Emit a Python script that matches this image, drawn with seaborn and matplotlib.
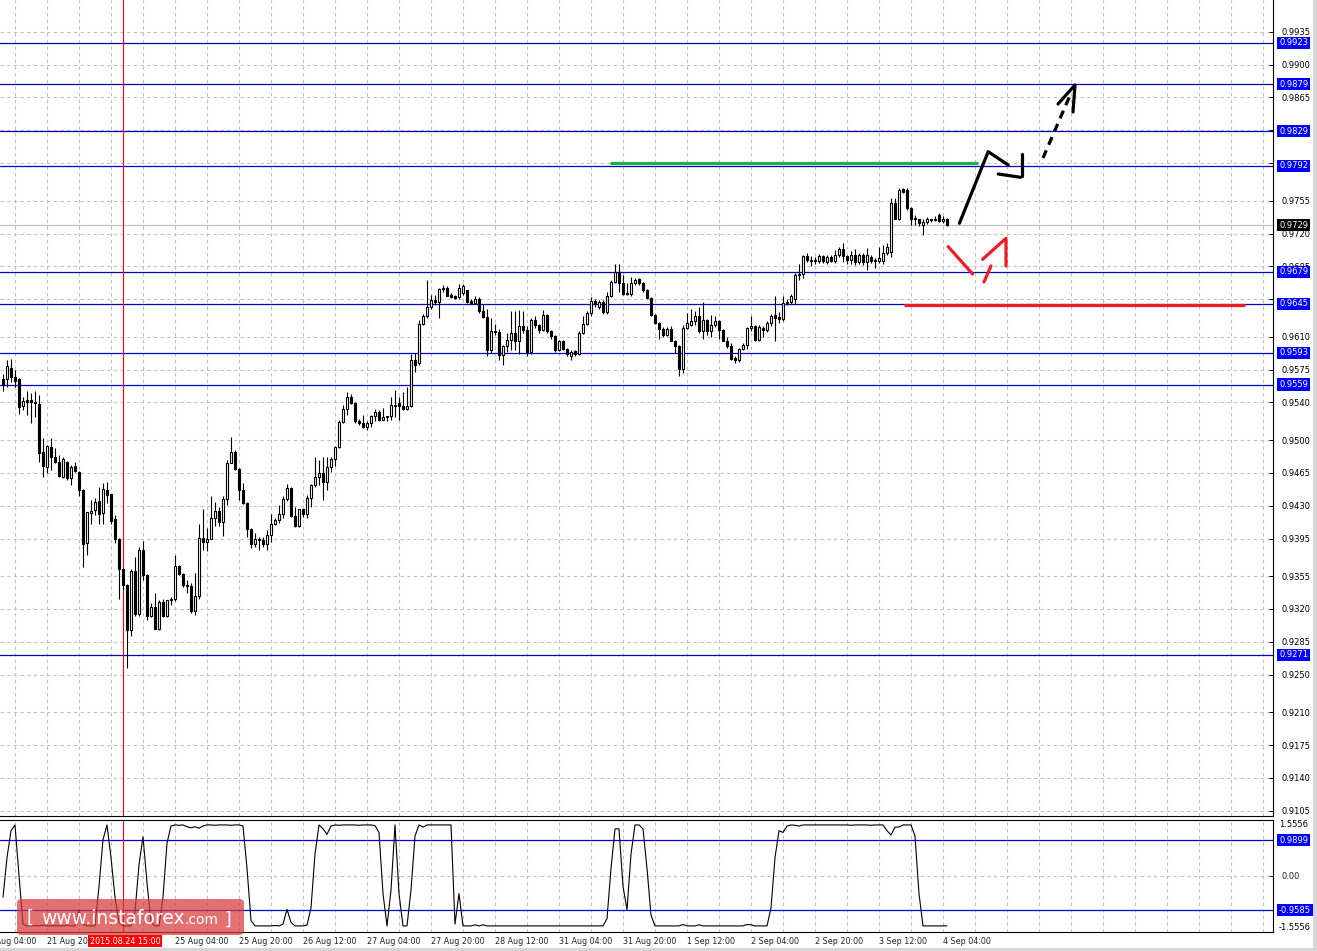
import numpy as np
import pandas as pd
import matplotlib
matplotlib.use("Agg")
import matplotlib.pyplot as plt
import matplotlib.transforms as mtransforms
from matplotlib.patches import Rectangle, FancyBboxPatch
from matplotlib.text import Annotation
import seaborn as sns

# ---------------- data (H1 bars, index 0 = 21 Aug 09:00) ----------------
opens = [
    .9565, .9565, .9577, .9567, .9565, .9536, .9543, .9543, .9541, .9538,
    .9487, .9471, .9493, .9482, .9477, .9461, .9477, .9460, .9472, .9466,
    .9447, .9390, .9422, .9425, .9435, .9422, .9447, .9443, .9416, .9395,
    .9363, .9346, .9298, .9360, .9315, .9383, .9356, .9312, .9322, .9299,
    .9327, .9312, .9330, .9331, .9366, .9357, .9346, .9344, .9318, .9334,
    .9396, .9391, .9395, .9417, .9424, .9413, .9437, .9476, .9487, .9469,
    .9447, .9433, .9405, .9389, .9395, .9393, .9389, .9399, .9410, .9415,
    .9421, .9437, .9449, .9419, .9408, .9426, .9421, .9438, .9452, .9461,
    .9465, .9455, .9471, .9480, .9493, .9519, .9533, .9546, .9539, .9520,
    .9518, .9514, .9518, .9526, .9530, .9521, .9524, .9526, .9537, .9539,
    .9536, .9533, .9536, .9585, .9582, .9624, .9632, .9642, .9649, .9647,
    .9661, .9662, .9654, .9653, .9652, .9657, .9660, .9648, .9646, .9650,
    .9637, .9631, .9596, .9616, .9615, .9591, .9600, .9607, .9614, .9606,
    .9621, .9617, .9594, .9628, .9622, .9617, .9633, .9616, .9611, .9596,
    .9605, .9597, .9590, .9595, .9592, .9614, .9624, .9635, .9648, .9642,
    .9647, .9636, .9653, .9668, .9679, .9667, .9657, .9656, .9667, .9672,
    .9667, .9660, .9651, .9633, .9625, .9618, .9612, .9618, .9606, .9600,
    .9576, .9619, .9622, .9627, .9632, .9616, .9628, .9616, .9622, .9627,
    .9617, .9606, .9600, .9587, .9585, .9597, .9601, .9619, .9621, .9607,
    .9619, .9617, .9625, .9633, .9631, .9629, .9646, .9647, .9650, .9676,
    .9677, .9696, .9692, .9691, .9691, .9696, .9690, .9695, .9691, .9697,
    .9704, .9696, .9692, .9697, .9690, .9697, .9690, .9695, .9692, .9691,
    .9691, .9699, .9700, .9752, .9736, .9767, .9766, .9747, .9737, .9735,
    .9729, .9732, .9736, .9734, .9740, .9733, .9736]
highs = [
    .9570, .9585, .9586, .9575, .9566, .9546, .9552, .9550, .9552, .9548,
    .9502, .9495, .9502, .9491, .9484, .9482, .9478, .9473, .9477, .9467,
    .9448, .9423, .9436, .9438, .9450, .9454, .9455, .9443, .9420, .9396,
    .9364, .9347, .9363, .9375, .9386, .9392, .9357, .9326, .9337, .9330,
    .9331, .9330, .9333, .9377, .9367, .9358, .9351, .9348, .9358, .9411,
    .9427, .9406, .9440, .9434, .9429, .9440, .9479, .9503, .9489, .9470,
    .9454, .9434, .9406, .9401, .9397, .9397, .9404, .9421, .9417, .9431,
    .9440, .9453, .9450, .9429, .9427, .9427, .9441, .9453, .9482, .9479,
    .9482, .9482, .9482, .9494, .9521, .9537, .9551, .9549, .9540, .9522,
    .9527, .9520, .9527, .9533, .9532, .9534, .9526, .9546, .9553, .9546,
    .9551, .9556, .9592, .9593, .9628, .9634, .9670, .9655, .9655, .9662,
    .9665, .9664, .9657, .9655, .9666, .9666, .9660, .9650, .9653, .9652,
    .9645, .9640, .9630, .9624, .9618, .9601, .9614, .9637, .9637, .9639,
    .9637, .9621, .9630, .9632, .9624, .9639, .9634, .9617, .9612, .9607,
    .9607, .9598, .9596, .9596, .9616, .9632, .9637, .9652, .9650, .9649,
    .9649, .9658, .9671, .9688, .9687, .9676, .9667, .9674, .9673, .9673,
    .9668, .9661, .9652, .9634, .9626, .9620, .9620, .9621, .9607, .9601,
    .9623, .9635, .9640, .9637, .9642, .9647, .9629, .9633, .9632, .9628,
    .9618, .9610, .9603, .9590, .9598, .9603, .9620, .9632, .9622, .9622,
    .9621, .9627, .9634, .9653, .9636, .9653, .9650, .9656, .9678, .9688,
    .9697, .9699, .9696, .9695, .9698, .9697, .9697, .9697, .9702, .9706,
    .9710, .9697, .9701, .9703, .9699, .9699, .9705, .9697, .9694, .9706,
    .9708, .9710, .9758, .9758, .9768, .9768, .9769, .9748, .9740, .9736,
    .9735, .9738, .9736, .9739, .9742, .9739, .9737]
lows = [
    .9552, .9556, .9562, .9557, .9528, .9532, .9527, .9518, .9525, .9477,
    .9461, .9465, .9468, .9475, .9461, .9459, .9457, .9452, .9466, .9440,
    .9365, .9378, .9411, .9420, .9410, .9411, .9433, .9411, .9390, .9331,
    .9340, .9257, .9291, .9312, .9312, .9351, .9308, .9311, .9299, .9298,
    .9311, .9311, .9324, .9329, .9356, .9343, .9337, .9316, .9314, .9331,
    .9383, .9382, .9394, .9408, .9408, .9398, .9431, .9475, .9468, .9436,
    .9432, .9397, .9385, .9386, .9383, .9386, .9383, .9391, .9409, .9412,
    .9417, .9435, .9418, .9407, .9407, .9418, .9417, .9429, .9450, .9452,
    .9436, .9447, .9466, .9472, .9492, .9518, .9527, .9538, .9518, .9516,
    .9513, .9511, .9514, .9520, .9520, .9521, .9520, .9521, .9525, .9521,
    .9532, .9532, .9535, .9572, .9580, .9622, .9630, .9640, .9644, .9630,
    .9658, .9653, .9651, .9650, .9650, .9655, .9646, .9645, .9645, .9635,
    .9630, .9589, .9593, .9612, .9585, .9580, .9594, .9596, .9596, .9592,
    .9614, .9589, .9592, .9619, .9614, .9616, .9614, .9608, .9594, .9595,
    .9596, .9590, .9585, .9590, .9591, .9613, .9623, .9632, .9642, .9640,
    .9634, .9634, .9652, .9667, .9658, .9655, .9654, .9653, .9665, .9665,
    .9658, .9650, .9632, .9624, .9608, .9610, .9611, .9605, .9593, .9568,
    .9571, .9618, .9621, .9623, .9614, .9608, .9612, .9610, .9620, .9608,
    .9605, .9598, .9585, .9582, .9583, .9596, .9597, .9616, .9605, .9606,
    .9610, .9615, .9621, .9605, .9625, .9627, .9644, .9645, .9645, .9670,
    .9673, .9690, .9685, .9687, .9689, .9689, .9688, .9690, .9689, .9695,
    .9690, .9688, .9688, .9686, .9688, .9686, .9681, .9689, .9683, .9689,
    .9688, .9697, .9695, .9735, .9734, .9763, .9745, .9729, .9729, .9728,
    .9718, .9730, .9732, .9733, .9732, .9731, .9728]
closes = [
    .9559, .9579, .9567, .9563, .9535, .9542, .9541, .9541, .9539, .9486,
    .9472, .9494, .9482, .9477, .9462, .9480, .9460, .9471, .9467, .9447,
    .9389, .9423, .9424, .9434, .9421, .9448, .9441, .9414, .9395, .9363,
    .9345, .9298, .9360, .9315, .9383, .9356, .9312, .9322, .9299, .9327,
    .9312, .9330, .9331, .9366, .9357, .9346, .9344, .9318, .9334, .9396,
    .9391, .9395, .9417, .9424, .9413, .9437, .9476, .9487, .9469, .9447,
    .9433, .9405, .9389, .9395, .9393, .9389, .9399, .9410, .9415, .9421,
    .9437, .9449, .9419, .9408, .9426, .9421, .9438, .9452, .9461, .9465,
    .9455, .9471, .9480, .9493, .9519, .9533, .9546, .9539, .9520, .9518,
    .9514, .9518, .9526, .9530, .9521, .9525, .9526, .9537, .9536, .9536,
    .9533, .9536, .9585, .9580, .9624, .9632, .9642, .9649, .9647, .9661,
    .9662, .9653, .9652, .9651, .9662, .9664, .9647, .9646, .9650, .9637,
    .9631, .9596, .9616, .9615, .9591, .9600, .9607, .9614, .9606, .9621,
    .9617, .9594, .9628, .9622, .9617, .9633, .9616, .9611, .9596, .9605,
    .9597, .9592, .9594, .9592, .9614, .9624, .9635, .9648, .9645, .9647,
    .9636, .9653, .9668, .9679, .9667, .9656, .9656, .9667, .9671, .9667,
    .9660, .9651, .9633, .9625, .9618, .9612, .9618, .9606, .9600, .9576,
    .9619, .9625, .9627, .9632, .9616, .9628, .9616, .9622, .9627, .9617,
    .9606, .9600, .9586, .9585, .9597, .9601, .9619, .9621, .9607, .9620,
    .9617, .9625, .9632, .9630, .9629, .9646, .9647, .9653, .9676, .9677,
    .9696, .9692, .9691, .9692, .9696, .9691, .9695, .9691, .9697, .9704,
    .9696, .9692, .9697, .9690, .9697, .9690, .9697, .9691, .9691, .9694,
    .9699, .9706, .9752, .9736, .9766, .9764, .9747, .9736, .9735, .9731,
    .9732, .9736, .9734, .9736, .9733, .9736, .9729]

# oscillator in the lower window
oscillator = [
    -0.60, 0.50, 1.25, 1.41, 0.00, -1.35, -1.40, -1.40, -1.39, -1.40,
    -1.38, -1.40, -1.40, -1.39, -1.40, -1.40, -1.38, -1.40, -1.40, -0.95,
    -1.35, -1.40, -1.40, -1.40, -0.30, 1.00, 1.41, 0.50, -0.60, -1.30,
    -1.40, -1.40, -1.40, -1.00, 0.30, 1.08, -0.20, -1.30, -1.40, -1.40,
    -0.60, 0.90, 1.38, 1.41, 1.40, 1.41, 1.36, 1.33, 1.36, 1.32,
    1.38, 1.41, 1.41, 1.40, 1.41, 1.41, 1.41, 1.40, 1.41, 1.41,
    1.38, 0.20, -1.25, -1.40, -1.40, -1.40, -1.40, -1.40, -1.39, -1.40,
    -1.35, -0.94, -1.30, -1.40, -1.40, -1.40, -1.38, -0.90, 0.60, 1.41,
    1.30, 1.15, 1.38, 1.41, 1.40, 1.41, 1.41, 1.41, 1.41, 1.40,
    1.41, 1.41, 1.41, 1.39, 1.20, -0.50, -1.40, -0.40, 1.41, -0.50,
    -1.40, -1.40, -0.40, 1.10, 1.41, 1.35, 1.41, 1.41, 1.41, 1.41,
    1.41, 1.41, 1.41, -1.35, -0.50, -1.40, -1.40, -1.40, -1.37, -1.40,
    -1.37, -1.40, -1.40, -1.40, -1.40, -1.40, -1.40, -1.40, -1.40, -1.40,
    -1.40, -1.40, -1.40, -1.40, -1.40, -1.40, -1.40, -1.40, -1.40, -1.40,
    -1.40, -1.40, -1.40, -1.40, -1.40, -1.40, -1.40, -1.40, -1.40, -1.40,
    -1.40, -1.20, 0.20, 1.30, 1.30, -0.30, -0.95, 0.60, 1.41, 1.41,
    1.30, 0.20, -1.10, -1.40, -1.40, -1.40, -1.40, -1.40, -1.40, -1.40,
    -1.36, -1.40, -1.40, -1.40, -1.37, -1.40, -1.40, -1.40, -1.40, -1.40,
    -1.40, -1.40, -1.40, -1.40, -1.40, -1.40, -1.36, -1.37, -1.40, -1.40,
    -1.40, -1.40, -0.90, 0.50, 1.25, 1.20, 1.38, 1.41, 1.40, 1.38,
    1.41, 1.41, 1.41, 1.41, 1.41, 1.41, 1.41, 1.41, 1.41, 1.41,
    1.41, 1.41, 1.40, 1.41, 1.41, 1.41, 1.41, 1.40, 1.41, 1.41,
    1.41, 1.25, 1.13, 1.35, 1.35, 1.41, 1.41, 1.41, 1.10, -0.50,
    -1.40, -1.40, -1.40, -1.40, -1.40, -1.40, -1.40]

# horizontal levels (main window) and their labels
levels = [0.9923, 0.9879, 0.9829, 0.9792, 0.9679, 0.9645, 0.9593, 0.9559, 0.9271]
current_price = 0.9729
price_ticks = [0.9935, 0.9900, 0.9865, 0.9830, 0.9795, 0.9755, 0.9720, 0.9685,
               0.9650, 0.9610, 0.9575, 0.9540, 0.9500, 0.9465, 0.9430, 0.9395,
               0.9355, 0.9320, 0.9285, 0.9250, 0.9210, 0.9175, 0.9140, 0.9105]
hidden_price_labels = [0.9830, 0.9795, 0.9650]   # covered by the level boxes
osc_levels = [0.9899, -0.9585]
osc_range = 1.5556

# time axis labels (bar index -> text); 24 Aug 12:00 sits under the cursor box
time_label_bars = [-5, 11, 43, 59, 75, 91, 107, 123, 139, 155, 171, 187, 203, 219, 235]
time_labels = ["21 Aug 04:00", "21 Aug 20:00", "25 Aug 04:00",
               "25 Aug 20:00", "26 Aug 12:00", "27 Aug 04:00", "27 Aug 20:00",
               "28 Aug 12:00", "31 Aug 04:00", "31 Aug 20:00", "1 Sep 12:00",
               "2 Sep 04:00", "2 Sep 20:00", "3 Sep 12:00", "4 Sep 04:00"]
time_tick_bars = [11, 27, 43, 59, 75, 91, 107, 123, 139, 155, 171, 187, 203, 219, 235]
cursor_bar = 30
cursor_label = "2015.08.24 15:00"

# analyst drawings (bar index, price)
green_level = dict(x=[151.75, 243.75], y=[0.9795, 0.9795])
red_level = dict(x=[225.25, 310.5], y=[0.9644, 0.9644])
black_up = dict(x=[239.1, 246.3, 251.3], y=[0.97309, 0.98072, 0.97930])
black_head_h = dict(x=[248.8, 254.4], y=[0.97834, 0.97799])
black_head_v = dict(x=[254.7, 254.7], y=[0.98047, 0.97813])
black_dash = dict(x=[260.0, 266.8], y=[0.98005, 0.98676])
black_dash_head = dict(x=[263.75, 268.0, 267.5], y=[0.98580, 0.98782, 0.98495])
red_down = dict(x=[236.3, 242.4], y=[0.97060, 0.96769])
red_dash = dict(x=[245.25, 247.0], y=[0.96684, 0.96854])
red_head = dict(x=[244.9, 250.75, 250.75], y=[0.96925, 0.97149, 0.96854])

# ---------------- figure ----------------
sns.set_style("white")
plt.rcParams['font.family'] = ['DejaVu Sans']

df = pd.DataFrame({"open": opens, "high": highs, "low": lows, "close": closes})
df["bar"] = np.arange(len(df))
df["high"] = df[["high", "open", "close"]].max(axis=1)
df["low"] = df[["low", "open", "close"]].min(axis=1)

W, H = 1317, 951
fig = plt.figure(figsize=(W / 100, H / 100), dpi=100)
ax = fig.add_axes([0, 1 - 816 / H, 1273 / W, 816 / H])
ax2 = fig.add_axes([0, 1 - 931.5 / H, 1273 / W, (931.5 - 819.7) / H])

XMIN, XMAX = -0.75, 317.5
BLUE_LINE = "#0000cc"
BLUE_BOX = "#0000ff"
GRID = "#c0c0c0"
FS = 6

# ----- main window -----
ax.set_xlim(XMIN, XMAX)
ax.set_ylim(0.90994, 0.99688)
ax.set_xticks(np.arange(3, 318, 8))
ax.set_yticks(price_ticks)
ax.set_yticklabels(["" if t in hidden_price_labels else f"{t:.4f}" for t in price_ticks])
ax.yaxis.tick_right()
ax.tick_params(axis="x", length=0, labelbottom=False)
ax.tick_params(axis="y", direction="in", length=3, width=0.7, labelsize=FS, pad=6, colors="black")
ax.grid(True, color=GRID, linestyle=(0, (3, 3)), linewidth=0.8)
ax.set_axisbelow(True)
for s in ["top", "left"]:
    ax.spines[s].set_visible(False)
for s in ["right", "bottom"]:
    ax.spines[s].set_color("black")
    ax.spines[s].set_linewidth(0.8)

for lv in levels:
    ax.axhline(lv, color=BLUE_LINE, lw=0.9, zorder=2)
ax.axhline(current_price, color="#c0c0c0", lw=0.9, zorder=2)
ax.axvline(cursor_bar, color="red", lw=0.8, zorder=2)

# candles
up = df["close"] >= df["open"]
bot = df[["open", "close"]].min(axis=1)
hgt = (df["close"] - df["open"]).abs().clip(lower=0.00004)
ax.vlines(df["bar"], df["low"], df["high"], color="black", lw=0.8, zorder=3)
ax.bar(df["bar"][up], hgt[up], bottom=bot[up], width=0.58, facecolor="white",
       edgecolor="black", linewidth=0.8, zorder=4)
ax.bar(df["bar"][~up], hgt[~up], bottom=bot[~up], width=0.58, facecolor="black",
       edgecolor="black", linewidth=0.8, zorder=4)

# drawings
LW = 2.3
ax.plot(green_level["x"], green_level["y"], color="#1fae4b", lw=LW, zorder=6, solid_capstyle="butt")
ax.plot(red_level["x"], red_level["y"], color="#ee1c24", lw=LW, zorder=6, solid_capstyle="butt")
for d in (black_up, black_head_h, black_head_v, black_dash_head):
    ax.plot(d["x"], d["y"], color="black", lw=LW, zorder=6, solid_capstyle="round")
ax.plot(black_dash["x"], black_dash["y"], color="black", lw=LW, zorder=6, dashes=(2.6, 1.9))
for d in (red_down, red_dash, red_head):
    ax.plot(d["x"], d["y"], color="#ee1c24", lw=LW, zorder=6, solid_capstyle="round")

# right side price boxes
tr = mtransforms.blended_transform_factory(ax.transAxes, ax.transData)
xlab = 1279 / 1273
for lv in levels:
    ax.text(xlab, lv, f"{lv:.4f}", transform=tr, ha="left", va="center", fontsize=FS,
            color="white", clip_on=False, zorder=10,
            bbox=dict(boxstyle="square,pad=0.2", fc=BLUE_BOX, ec="none"))
ax.text(xlab, current_price, f"{current_price:.4f}", transform=tr, ha="left", va="center",
        fontsize=FS, color="white", clip_on=False, zorder=11,
        bbox=dict(boxstyle="square,pad=0.2", fc="black", ec="none"))

# ----- oscillator window -----
sns.lineplot(x=df["bar"], y=oscillator, ax=ax2, color="black", linewidth=0.8)
ax2.set_xlim(XMIN, XMAX)
ax2.set_ylim(-osc_range, osc_range)
ax2.set_xlabel("")
ax2.set_ylabel("")
ax2.set_xticks(time_tick_bars)
ax2.set_xticks(np.arange(3, 318, 8), minor=True)
ax2.set_xticklabels([])
ax2.tick_params(axis="x", which="major", direction="out", length=3, width=0.7)
ax2.tick_params(axis="x", which="minor", length=0)
ax2.set_yticks([0])
ax2.set_yticklabels(["0.00"])
ax2.yaxis.tick_right()
ax2.tick_params(axis="y", direction="in", length=3, width=0.7, labelsize=FS, pad=6)
ax2.grid(True, which="both", axis="x", color=GRID, linestyle=(0, (3, 3)), linewidth=0.8)
ax2.grid(True, which="major", axis="y", color=GRID, linestyle=(0, (3, 3)), linewidth=0.8)
ax2.set_axisbelow(True)
ax2.spines["left"].set_visible(False)
for s in ["top", "right", "bottom"]:
    ax2.spines[s].set_color("black")
    ax2.spines[s].set_linewidth(0.8)
for lv in osc_levels:
    ax2.axhline(lv, color=BLUE_LINE, lw=0.9, zorder=1.5)
ax2.axvline(cursor_bar, color="red", lw=0.8, zorder=1.5)

tr2 = mtransforms.blended_transform_factory(ax2.transAxes, ax2.transData)
ax2.text(xlab, osc_range, f"{osc_range:.4f}", transform=tr2, ha="left", va="top",
         fontsize=FS, color="black", clip_on=False)
ax2.text(xlab, -osc_range, f"{-osc_range:.4f}", transform=tr2, ha="left", va="bottom",
         fontsize=FS, color="black", clip_on=False)
for lv in osc_levels:
    ax2.text(xlab, lv, f"{lv:.4f}", transform=tr2, ha="left", va="center", fontsize=FS,
             color="white", clip_on=False, zorder=10,
             bbox=dict(boxstyle="square,pad=0.2", fc=BLUE_BOX, ec="none"))

# time labels
for b, t in zip(time_label_bars, time_labels):
    ax2.annotate(t, xy=(b, 0), xycoords=("data", "axes fraction"), xytext=(0, -7),
                 textcoords="offset points", ha="left", va="center", fontsize=5.8,
                 annotation_clip=False, zorder=5)
ax2.annotate(cursor_label, xy=(cursor_bar + 0.5, 0), xycoords=("data", "axes fraction"),
             xytext=(0, -7), textcoords="offset points", ha="center", va="center",
             fontsize=5.8, color="white", annotation_clip=False, zorder=12,
             bbox=dict(boxstyle="square,pad=0.2", fc="#ff0000", ec="none"))

# watermark
wm = FancyBboxPatch((17 / W, 1 - 935 / H), 227 / W, 36 / H, boxstyle="round,pad=0,rounding_size=0.004",
                    transform=fig.transFigure, fc="#d83a3a", ec="none", alpha=0.72, zorder=20)
fig.add_artist(wm)
t1 = fig.text(27 / W, 1 - 918 / H, "[ ", ha="left", va="center", fontsize=13,
              color="white", zorder=21)
t2 = Annotation("www.instaforex", xy=(1, 0.5), xycoords=t1, xytext=(1, 0),
                textcoords="offset points", ha="left", va="center", fontsize=13.5,
                color="white", zorder=21)
fig.add_artist(t2)
t3 = Annotation(".com", xy=(1, 0.42), xycoords=t2, ha="left", va="center",
                fontsize=10, color="white", zorder=21)
fig.add_artist(t3)
t4 = Annotation(" ]", xy=(1, 0.5), xycoords=t3, ha="left", va="center",
                fontsize=13, color="white", zorder=21)
fig.add_artist(t4)

# window frame strips
fig.add_artist(Rectangle((1313 / W, 0), 4 / W, 1, transform=fig.transFigure, fc="#d6d6d6", ec="none"))
fig.add_artist(Rectangle((0, 0), 1, 3 / H, transform=fig.transFigure, fc="#d6d6d6", ec="none"))

fig.savefig("out.png", dpi=100)
